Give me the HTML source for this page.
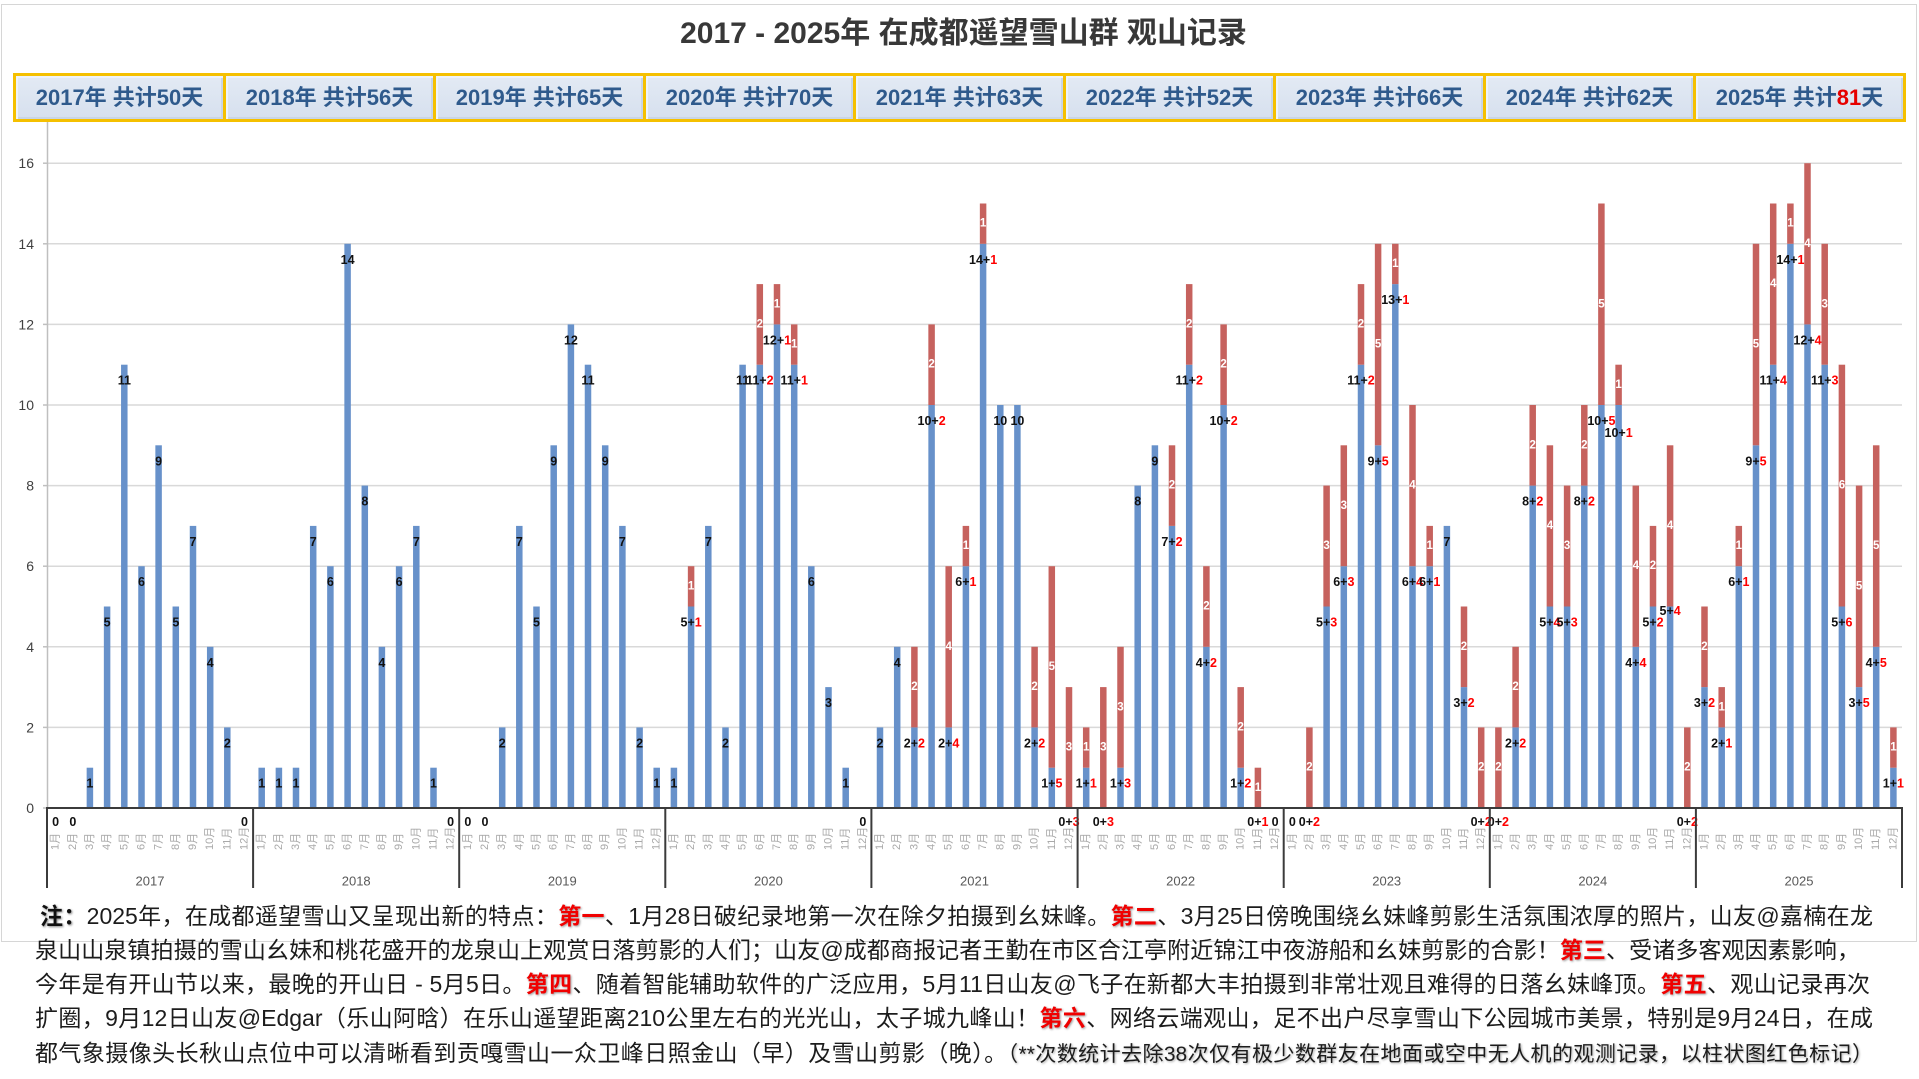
<!DOCTYPE html>
<html><head><meta charset="utf-8">
<style>
html,body{margin:0;padding:0;background:#fff;}
body{width:1919px;height:1079px;position:relative;overflow:hidden;font-family:"Liberation Sans","Noto Sans CJK SC",sans-serif;}
.frame{position:absolute;left:1px;top:4px;width:1914px;height:936px;border:1px solid #d6d6d6;}
.title{position:absolute;left:4px;top:12px;width:1919px;text-align:center;font-weight:bold;font-size:30px;line-height:44px;color:#383838;}
.hdr{position:absolute;left:13px;top:73px;width:1893px;height:49px;box-sizing:border-box;border:3px solid #f5c000;display:flex;background:#dce5f1;}
.hdr div{flex:1;box-sizing:border-box;text-align:center;font-weight:bold;font-size:22px;line-height:43px;color:#2f5a8c;background:linear-gradient(#e3eaf4,#d6e0ee);box-shadow:inset 2px 2px 0 #eef3f9,inset -2px -2px 0 #c8d5e6;}
.hdr div+div{border-left:3px solid #f5c000;}
.hdr .rn{color:#e60000;}
svg{position:absolute;left:0;top:0;}
.b{fill:#6791ca;}
.r{fill:#c6625e;}
.l{font:bold 12.5px "Liberation Sans",sans-serif;text-anchor:middle;dominant-baseline:central;fill:#111;}
.rd{fill:#ff0000;}
.w{font:bold 11.5px "Liberation Sans",sans-serif;text-anchor:middle;dominant-baseline:central;fill:#fff;}
.m{font:11px "Liberation Sans","Noto Sans CJK SC",sans-serif;fill:#a9a9a9;dominant-baseline:central;}
.yl{font:14px "Liberation Sans",sans-serif;fill:#404040;text-anchor:end;dominant-baseline:central;}
.yr{font:13px "Liberation Sans",sans-serif;fill:#595959;text-anchor:middle;dominant-baseline:central;}
.ln{position:absolute;height:34px;line-height:34px;font-size:23px;white-space:nowrap;text-align:justify;text-align-last:justify;color:#1c1c1c;font-family:"Liberation Sans","Noto Sans CJK SC",sans-serif;}
.ln .k{font-weight:bold;color:#111;text-shadow:1px 1px 2px #888;}
.ln .q{font-weight:bold;color:#f00000;text-shadow:1px 1px 2px #999;}
.ln .s{font-size:21px;text-shadow:1px 1px 2px #aaa;}
</style></head>
<body>
<div class="frame"></div>
<div class="title">2017 - 2025年 在成都遥望雪山群 观山记录</div>
<div class="hdr">
<div>2017年 共计50天</div><div>2018年 共计56天</div><div>2019年 共计65天</div><div>2020年 共计70天</div><div>2021年 共计63天</div><div>2022年 共计52天</div><div>2023年 共计66天</div><div>2024年 共计62天</div><div>2025年 共计<span class="rn">81</span>天</div>
</div>

<svg width="1919" height="1079" viewBox="0 0 1919 1079">
<!-- gridlines -->
<g stroke="#d9d9d9" stroke-width="1.5">
<line x1="48" y1="727.4" x2="1902" y2="727.4"/>
<line x1="48" y1="646.8" x2="1902" y2="646.8"/>
<line x1="48" y1="566.2" x2="1902" y2="566.2"/>
<line x1="48" y1="485.6" x2="1902" y2="485.6"/>
<line x1="48" y1="405" x2="1902" y2="405"/>
<line x1="48" y1="324.4" x2="1902" y2="324.4"/>
<line x1="48" y1="243.8" x2="1902" y2="243.8"/>
<line x1="48" y1="163.2" x2="1902" y2="163.2"/>
</g>
<g stroke="#bfbfbf" stroke-width="1.5">
<line x1="47.5" y1="122" x2="47.5" y2="808"/>
<line x1="43" y1="808" x2="48" y2="808"/>
<line x1="43" y1="727.4" x2="48" y2="727.4"/>
<line x1="43" y1="646.8" x2="48" y2="646.8"/>
<line x1="43" y1="566.2" x2="48" y2="566.2"/>
<line x1="43" y1="485.6" x2="48" y2="485.6"/>
<line x1="43" y1="405" x2="48" y2="405"/>
<line x1="43" y1="324.4" x2="48" y2="324.4"/>
<line x1="43" y1="243.8" x2="48" y2="243.8"/>
<line x1="43" y1="163.2" x2="48" y2="163.2"/>
</g>
<text class="yl" x="34" y="808">0</text>
<text class="yl" x="34" y="727.4">2</text>
<text class="yl" x="34" y="646.8">4</text>
<text class="yl" x="34" y="566.2">6</text>
<text class="yl" x="34" y="485.6">8</text>
<text class="yl" x="34" y="405">10</text>
<text class="yl" x="34" y="324.4">12</text>
<text class="yl" x="34" y="243.8">14</text>
<text class="yl" x="34" y="163.2">16</text>

<!-- 2017 -->
<g transform="translate(55.6,0)"><text class="l" y="822">0</text><text class="m" transform="translate(0,850) rotate(-90)">1月</text></g>
<g transform="translate(72.8,0)"><text class="l" y="822">0</text><text class="m" transform="translate(0,850) rotate(-90)">2月</text></g>
<g transform="translate(89.9,0)"><rect class="b" x="-3.25" width="6.5" y="767.7" height="40.3"/><text class="l" y="783.7">1</text><text class="m" transform="translate(0,850) rotate(-90)">3月</text></g>
<g transform="translate(107.1,0)"><rect class="b" x="-3.25" width="6.5" y="606.5" height="201.5"/><text class="l" y="622.5">5</text><text class="m" transform="translate(0,850) rotate(-90)">4月</text></g>
<g transform="translate(124.3,0)"><rect class="b" x="-3.25" width="6.5" y="364.7" height="443.3"/><text class="l" y="380.7">11</text><text class="m" transform="translate(0,850) rotate(-90)">5月</text></g>
<g transform="translate(141.5,0)"><rect class="b" x="-3.25" width="6.5" y="566.2" height="241.8"/><text class="l" y="582.2">6</text><text class="m" transform="translate(0,850) rotate(-90)">6月</text></g>
<g transform="translate(158.6,0)"><rect class="b" x="-3.25" width="6.5" y="445.3" height="362.7"/><text class="l" y="461.3">9</text><text class="m" transform="translate(0,850) rotate(-90)">7月</text></g>
<g transform="translate(175.8,0)"><rect class="b" x="-3.25" width="6.5" y="606.5" height="201.5"/><text class="l" y="622.5">5</text><text class="m" transform="translate(0,850) rotate(-90)">8月</text></g>
<g transform="translate(193.0,0)"><rect class="b" x="-3.25" width="6.5" y="525.9" height="282.1"/><text class="l" y="541.9">7</text><text class="m" transform="translate(0,850) rotate(-90)">9月</text></g>
<g transform="translate(210.2,0)"><rect class="b" x="-3.25" width="6.5" y="646.8" height="161.2"/><text class="l" y="662.8">4</text><text class="m" transform="translate(0,850) rotate(-90)">10月</text></g>
<g transform="translate(227.3,0)"><rect class="b" x="-3.25" width="6.5" y="727.4" height="80.6"/><text class="l" y="743.4">2</text><text class="m" transform="translate(0,850) rotate(-90)">11月</text></g>
<g transform="translate(244.5,0)"><text class="l" y="822">0</text><text class="m" transform="translate(0,850) rotate(-90)">12月</text></g>

<!-- 2018 -->
<g transform="translate(261.7,0)"><rect class="b" x="-3.25" width="6.5" y="767.7" height="40.3"/><text class="l" y="783.7">1</text><text class="m" transform="translate(0,850) rotate(-90)">1月</text></g>
<g transform="translate(278.9,0)"><rect class="b" x="-3.25" width="6.5" y="767.7" height="40.3"/><text class="l" y="783.7">1</text><text class="m" transform="translate(0,850) rotate(-90)">2月</text></g>
<g transform="translate(296.0,0)"><rect class="b" x="-3.25" width="6.5" y="767.7" height="40.3"/><text class="l" y="783.7">1</text><text class="m" transform="translate(0,850) rotate(-90)">3月</text></g>
<g transform="translate(313.2,0)"><rect class="b" x="-3.25" width="6.5" y="525.9" height="282.1"/><text class="l" y="541.9">7</text><text class="m" transform="translate(0,850) rotate(-90)">4月</text></g>
<g transform="translate(330.4,0)"><rect class="b" x="-3.25" width="6.5" y="566.2" height="241.8"/><text class="l" y="582.2">6</text><text class="m" transform="translate(0,850) rotate(-90)">5月</text></g>
<g transform="translate(347.6,0)"><rect class="b" x="-3.25" width="6.5" y="243.8" height="564.2"/><text class="l" y="259.8">14</text><text class="m" transform="translate(0,850) rotate(-90)">6月</text></g>
<g transform="translate(364.8,0)"><rect class="b" x="-3.25" width="6.5" y="485.6" height="322.4"/><text class="l" y="501.6">8</text><text class="m" transform="translate(0,850) rotate(-90)">7月</text></g>
<g transform="translate(381.9,0)"><rect class="b" x="-3.25" width="6.5" y="646.8" height="161.2"/><text class="l" y="662.8">4</text><text class="m" transform="translate(0,850) rotate(-90)">8月</text></g>
<g transform="translate(399.1,0)"><rect class="b" x="-3.25" width="6.5" y="566.2" height="241.8"/><text class="l" y="582.2">6</text><text class="m" transform="translate(0,850) rotate(-90)">9月</text></g>
<g transform="translate(416.3,0)"><rect class="b" x="-3.25" width="6.5" y="525.9" height="282.1"/><text class="l" y="541.9">7</text><text class="m" transform="translate(0,850) rotate(-90)">10月</text></g>
<g transform="translate(433.5,0)"><rect class="b" x="-3.25" width="6.5" y="767.7" height="40.3"/><text class="l" y="783.7">1</text><text class="m" transform="translate(0,850) rotate(-90)">11月</text></g>
<g transform="translate(450.6,0)"><text class="l" y="822">0</text><text class="m" transform="translate(0,850) rotate(-90)">12月</text></g>

<!-- 2019 -->
<g transform="translate(467.8,0)"><text class="l" y="822">0</text><text class="m" transform="translate(0,850) rotate(-90)">1月</text></g>
<g transform="translate(485.0,0)"><text class="l" y="822">0</text><text class="m" transform="translate(0,850) rotate(-90)">2月</text></g>
<g transform="translate(502.2,0)"><rect class="b" x="-3.25" width="6.5" y="727.4" height="80.6"/><text class="l" y="743.4">2</text><text class="m" transform="translate(0,850) rotate(-90)">3月</text></g>
<g transform="translate(519.3,0)"><rect class="b" x="-3.25" width="6.5" y="525.9" height="282.1"/><text class="l" y="541.9">7</text><text class="m" transform="translate(0,850) rotate(-90)">4月</text></g>
<g transform="translate(536.5,0)"><rect class="b" x="-3.25" width="6.5" y="606.5" height="201.5"/><text class="l" y="622.5">5</text><text class="m" transform="translate(0,850) rotate(-90)">5月</text></g>
<g transform="translate(553.7,0)"><rect class="b" x="-3.25" width="6.5" y="445.3" height="362.7"/><text class="l" y="461.3">9</text><text class="m" transform="translate(0,850) rotate(-90)">6月</text></g>
<g transform="translate(570.9,0)"><rect class="b" x="-3.25" width="6.5" y="324.4" height="483.6"/><text class="l" y="340.4">12</text><text class="m" transform="translate(0,850) rotate(-90)">7月</text></g>
<g transform="translate(588.0,0)"><rect class="b" x="-3.25" width="6.5" y="364.7" height="443.3"/><text class="l" y="380.7">11</text><text class="m" transform="translate(0,850) rotate(-90)">8月</text></g>
<g transform="translate(605.2,0)"><rect class="b" x="-3.25" width="6.5" y="445.3" height="362.7"/><text class="l" y="461.3">9</text><text class="m" transform="translate(0,850) rotate(-90)">9月</text></g>
<g transform="translate(622.4,0)"><rect class="b" x="-3.25" width="6.5" y="525.9" height="282.1"/><text class="l" y="541.9">7</text><text class="m" transform="translate(0,850) rotate(-90)">10月</text></g>
<g transform="translate(639.6,0)"><rect class="b" x="-3.25" width="6.5" y="727.4" height="80.6"/><text class="l" y="743.4">2</text><text class="m" transform="translate(0,850) rotate(-90)">11月</text></g>
<g transform="translate(656.7,0)"><rect class="b" x="-3.25" width="6.5" y="767.7" height="40.3"/><text class="l" y="783.7">1</text><text class="m" transform="translate(0,850) rotate(-90)">12月</text></g>

<!-- 2020 -->
<g transform="translate(673.9,0)"><rect class="b" x="-3.25" width="6.5" y="767.7" height="40.3"/><text class="l" y="783.7">1</text><text class="m" transform="translate(0,850) rotate(-90)">1月</text></g>
<g transform="translate(691.1,0)"><rect class="b" x="-3.25" width="6.5" y="606.5" height="201.5"/><rect class="r" x="-3.25" width="6.5" y="566.2" height="40.3"/><text class="w" y="586.35">1</text><text class="l" y="622.5">5+<tspan class="rd">1</tspan></text><text class="m" transform="translate(0,850) rotate(-90)">2月</text></g>
<g transform="translate(708.3,0)"><rect class="b" x="-3.25" width="6.5" y="525.9" height="282.1"/><text class="l" y="541.9">7</text><text class="m" transform="translate(0,850) rotate(-90)">3月</text></g>
<g transform="translate(725.5,0)"><rect class="b" x="-3.25" width="6.5" y="727.4" height="80.6"/><text class="l" y="743.4">2</text><text class="m" transform="translate(0,850) rotate(-90)">4月</text></g>
<g transform="translate(742.6,0)"><rect class="b" x="-3.25" width="6.5" y="364.7" height="443.3"/><text class="l" y="380.7">11</text><text class="m" transform="translate(0,850) rotate(-90)">5月</text></g>
<g transform="translate(759.8,0)"><rect class="b" x="-3.25" width="6.5" y="364.7" height="443.3"/><rect class="r" x="-3.25" width="6.5" y="284.1" height="80.6"/><text class="w" y="324.4">2</text><text class="l" y="380.7">11+<tspan class="rd">2</tspan></text><text class="m" transform="translate(0,850) rotate(-90)">6月</text></g>
<g transform="translate(777.0,0)"><rect class="b" x="-3.25" width="6.5" y="324.4" height="483.6"/><rect class="r" x="-3.25" width="6.5" y="284.1" height="40.3"/><text class="w" y="304.25">1</text><text class="l" y="340.4">12+<tspan class="rd">1</tspan></text><text class="m" transform="translate(0,850) rotate(-90)">7月</text></g>
<g transform="translate(794.2,0)"><rect class="b" x="-3.25" width="6.5" y="364.7" height="443.3"/><rect class="r" x="-3.25" width="6.5" y="324.4" height="40.3"/><text class="w" y="344.55">1</text><text class="l" y="380.7">11+<tspan class="rd">1</tspan></text><text class="m" transform="translate(0,850) rotate(-90)">8月</text></g>
<g transform="translate(811.3,0)"><rect class="b" x="-3.25" width="6.5" y="566.2" height="241.8"/><text class="l" y="582.2">6</text><text class="m" transform="translate(0,850) rotate(-90)">9月</text></g>
<g transform="translate(828.5,0)"><rect class="b" x="-3.25" width="6.5" y="687.1" height="120.9"/><text class="l" y="703.1">3</text><text class="m" transform="translate(0,850) rotate(-90)">10月</text></g>
<g transform="translate(845.7,0)"><rect class="b" x="-3.25" width="6.5" y="767.7" height="40.3"/><text class="l" y="783.7">1</text><text class="m" transform="translate(0,850) rotate(-90)">11月</text></g>
<g transform="translate(862.9,0)"><text class="l" y="822">0</text><text class="m" transform="translate(0,850) rotate(-90)">12月</text></g>

<!-- 2021 -->
<g transform="translate(880.0,0)"><rect class="b" x="-3.25" width="6.5" y="727.4" height="80.6"/><text class="l" y="743.4">2</text><text class="m" transform="translate(0,850) rotate(-90)">1月</text></g>
<g transform="translate(897.2,0)"><rect class="b" x="-3.25" width="6.5" y="646.8" height="161.2"/><text class="l" y="662.8">4</text><text class="m" transform="translate(0,850) rotate(-90)">2月</text></g>
<g transform="translate(914.4,0)"><rect class="b" x="-3.25" width="6.5" y="727.4" height="80.6"/><rect class="r" x="-3.25" width="6.5" y="646.8" height="80.6"/><text class="w" y="687.1">2</text><text class="l" y="743.4">2+<tspan class="rd">2</tspan></text><text class="m" transform="translate(0,850) rotate(-90)">3月</text></g>
<g transform="translate(931.6,0)"><rect class="b" x="-3.25" width="6.5" y="405" height="403"/><rect class="r" x="-3.25" width="6.5" y="324.4" height="80.6"/><text class="w" y="364.7">2</text><text class="l" y="421">10+<tspan class="rd">2</tspan></text><text class="m" transform="translate(0,850) rotate(-90)">4月</text></g>
<g transform="translate(948.7,0)"><rect class="b" x="-3.25" width="6.5" y="727.4" height="80.6"/><rect class="r" x="-3.25" width="6.5" y="566.2" height="161.2"/><text class="w" y="646.8">4</text><text class="l" y="743.4">2+<tspan class="rd">4</tspan></text><text class="m" transform="translate(0,850) rotate(-90)">5月</text></g>
<g transform="translate(965.9,0)"><rect class="b" x="-3.25" width="6.5" y="566.2" height="241.8"/><rect class="r" x="-3.25" width="6.5" y="525.9" height="40.3"/><text class="w" y="546.05">1</text><text class="l" y="582.2">6+<tspan class="rd">1</tspan></text><text class="m" transform="translate(0,850) rotate(-90)">6月</text></g>
<g transform="translate(983.1,0)"><rect class="b" x="-3.25" width="6.5" y="243.8" height="564.2"/><rect class="r" x="-3.25" width="6.5" y="203.5" height="40.3"/><text class="w" y="223.65">1</text><text class="l" y="259.8">14+<tspan class="rd">1</tspan></text><text class="m" transform="translate(0,850) rotate(-90)">7月</text></g>
<g transform="translate(1000.3,0)"><rect class="b" x="-3.25" width="6.5" y="405" height="403"/><text class="l" y="421">10</text><text class="m" transform="translate(0,850) rotate(-90)">8月</text></g>
<g transform="translate(1017.4,0)"><rect class="b" x="-3.25" width="6.5" y="405" height="403"/><text class="l" y="421">10</text><text class="m" transform="translate(0,850) rotate(-90)">9月</text></g>
<g transform="translate(1034.6,0)"><rect class="b" x="-3.25" width="6.5" y="727.4" height="80.6"/><rect class="r" x="-3.25" width="6.5" y="646.8" height="80.6"/><text class="w" y="687.1">2</text><text class="l" y="743.4">2+<tspan class="rd">2</tspan></text><text class="m" transform="translate(0,850) rotate(-90)">10月</text></g>
<g transform="translate(1051.8,0)"><rect class="b" x="-3.25" width="6.5" y="767.7" height="40.3"/><rect class="r" x="-3.25" width="6.5" y="566.2" height="201.5"/><text class="w" y="666.95">5</text><text class="l" y="783.7">1+<tspan class="rd">5</tspan></text><text class="m" transform="translate(0,850) rotate(-90)">11月</text></g>
<g transform="translate(1069.0,0)"><rect class="r" x="-3.25" width="6.5" y="687.1" height="120.9"/><text class="w" y="747.55">3</text><text class="l" y="822">0+<tspan class="rd">3</tspan></text><text class="m" transform="translate(0,850) rotate(-90)">12月</text></g>

<!-- 2022 -->
<g transform="translate(1086.2,0)"><rect class="b" x="-3.25" width="6.5" y="767.7" height="40.3"/><rect class="r" x="-3.25" width="6.5" y="727.4" height="40.3"/><text class="w" y="747.55">1</text><text class="l" y="783.7">1+<tspan class="rd">1</tspan></text><text class="m" transform="translate(0,850) rotate(-90)">1月</text></g>
<g transform="translate(1103.3,0)"><rect class="r" x="-3.25" width="6.5" y="687.1" height="120.9"/><text class="w" y="747.55">3</text><text class="l" y="822">0+<tspan class="rd">3</tspan></text><text class="m" transform="translate(0,850) rotate(-90)">2月</text></g>
<g transform="translate(1120.5,0)"><rect class="b" x="-3.25" width="6.5" y="767.7" height="40.3"/><rect class="r" x="-3.25" width="6.5" y="646.8" height="120.9"/><text class="w" y="707.25">3</text><text class="l" y="783.7">1+<tspan class="rd">3</tspan></text><text class="m" transform="translate(0,850) rotate(-90)">3月</text></g>
<g transform="translate(1137.7,0)"><rect class="b" x="-3.25" width="6.5" y="485.6" height="322.4"/><text class="l" y="501.6">8</text><text class="m" transform="translate(0,850) rotate(-90)">4月</text></g>
<g transform="translate(1154.9,0)"><rect class="b" x="-3.25" width="6.5" y="445.3" height="362.7"/><text class="l" y="461.3">9</text><text class="m" transform="translate(0,850) rotate(-90)">5月</text></g>
<g transform="translate(1172.0,0)"><rect class="b" x="-3.25" width="6.5" y="525.9" height="282.1"/><rect class="r" x="-3.25" width="6.5" y="445.3" height="80.6"/><text class="w" y="485.6">2</text><text class="l" y="541.9">7+<tspan class="rd">2</tspan></text><text class="m" transform="translate(0,850) rotate(-90)">6月</text></g>
<g transform="translate(1189.2,0)"><rect class="b" x="-3.25" width="6.5" y="364.7" height="443.3"/><rect class="r" x="-3.25" width="6.5" y="284.1" height="80.6"/><text class="w" y="324.4">2</text><text class="l" y="380.7">11+<tspan class="rd">2</tspan></text><text class="m" transform="translate(0,850) rotate(-90)">7月</text></g>
<g transform="translate(1206.4,0)"><rect class="b" x="-3.25" width="6.5" y="646.8" height="161.2"/><rect class="r" x="-3.25" width="6.5" y="566.2" height="80.6"/><text class="w" y="606.5">2</text><text class="l" y="662.8">4+<tspan class="rd">2</tspan></text><text class="m" transform="translate(0,850) rotate(-90)">8月</text></g>
<g transform="translate(1223.6,0)"><rect class="b" x="-3.25" width="6.5" y="405" height="403"/><rect class="r" x="-3.25" width="6.5" y="324.4" height="80.6"/><text class="w" y="364.7">2</text><text class="l" y="421">10+<tspan class="rd">2</tspan></text><text class="m" transform="translate(0,850) rotate(-90)">9月</text></g>
<g transform="translate(1240.7,0)"><rect class="b" x="-3.25" width="6.5" y="767.7" height="40.3"/><rect class="r" x="-3.25" width="6.5" y="687.1" height="80.6"/><text class="w" y="727.4">2</text><text class="l" y="783.7">1+<tspan class="rd">2</tspan></text><text class="m" transform="translate(0,850) rotate(-90)">10月</text></g>
<g transform="translate(1257.9,0)"><rect class="r" x="-3.25" width="6.5" y="767.7" height="40.3"/><text class="w" y="787.85">1</text><text class="l" y="822">0+<tspan class="rd">1</tspan></text><text class="m" transform="translate(0,850) rotate(-90)">11月</text></g>
<g transform="translate(1275.1,0)"><text class="l" y="822">0</text><text class="m" transform="translate(0,850) rotate(-90)">12月</text></g>

<!-- 2023 -->
<g transform="translate(1292.3,0)"><text class="l" y="822">0</text><text class="m" transform="translate(0,850) rotate(-90)">1月</text></g>
<g transform="translate(1309.4,0)"><rect class="r" x="-3.25" width="6.5" y="727.4" height="80.6"/><text class="w" y="767.7">2</text><text class="l" y="822">0+<tspan class="rd">2</tspan></text><text class="m" transform="translate(0,850) rotate(-90)">2月</text></g>
<g transform="translate(1326.6,0)"><rect class="b" x="-3.25" width="6.5" y="606.5" height="201.5"/><rect class="r" x="-3.25" width="6.5" y="485.6" height="120.9"/><text class="w" y="546.05">3</text><text class="l" y="622.5">5+<tspan class="rd">3</tspan></text><text class="m" transform="translate(0,850) rotate(-90)">3月</text></g>
<g transform="translate(1343.8,0)"><rect class="b" x="-3.25" width="6.5" y="566.2" height="241.8"/><rect class="r" x="-3.25" width="6.5" y="445.3" height="120.9"/><text class="w" y="505.75">3</text><text class="l" y="582.2">6+<tspan class="rd">3</tspan></text><text class="m" transform="translate(0,850) rotate(-90)">4月</text></g>
<g transform="translate(1361.0,0)"><rect class="b" x="-3.25" width="6.5" y="364.7" height="443.3"/><rect class="r" x="-3.25" width="6.5" y="284.1" height="80.6"/><text class="w" y="324.4">2</text><text class="l" y="380.7">11+<tspan class="rd">2</tspan></text><text class="m" transform="translate(0,850) rotate(-90)">5月</text></g>
<g transform="translate(1378.1,0)"><rect class="b" x="-3.25" width="6.5" y="445.3" height="362.7"/><rect class="r" x="-3.25" width="6.5" y="243.8" height="201.5"/><text class="w" y="344.55">5</text><text class="l" y="461.3">9+<tspan class="rd">5</tspan></text><text class="m" transform="translate(0,850) rotate(-90)">6月</text></g>
<g transform="translate(1395.3,0)"><rect class="b" x="-3.25" width="6.5" y="284.1" height="523.9"/><rect class="r" x="-3.25" width="6.5" y="243.8" height="40.3"/><text class="w" y="263.95">1</text><text class="l" y="300.1">13+<tspan class="rd">1</tspan></text><text class="m" transform="translate(0,850) rotate(-90)">7月</text></g>
<g transform="translate(1412.5,0)"><rect class="b" x="-3.25" width="6.5" y="566.2" height="241.8"/><rect class="r" x="-3.25" width="6.5" y="405" height="161.2"/><text class="w" y="485.6">4</text><text class="l" y="582.2">6+<tspan class="rd">4</tspan></text><text class="m" transform="translate(0,850) rotate(-90)">8月</text></g>
<g transform="translate(1429.7,0)"><rect class="b" x="-3.25" width="6.5" y="566.2" height="241.8"/><rect class="r" x="-3.25" width="6.5" y="525.9" height="40.3"/><text class="w" y="546.05">1</text><text class="l" y="582.2">6+<tspan class="rd">1</tspan></text><text class="m" transform="translate(0,850) rotate(-90)">9月</text></g>
<g transform="translate(1446.9,0)"><rect class="b" x="-3.25" width="6.5" y="525.9" height="282.1"/><text class="l" y="541.9">7</text><text class="m" transform="translate(0,850) rotate(-90)">10月</text></g>
<g transform="translate(1464.0,0)"><rect class="b" x="-3.25" width="6.5" y="687.1" height="120.9"/><rect class="r" x="-3.25" width="6.5" y="606.5" height="80.6"/><text class="w" y="646.8">2</text><text class="l" y="703.1">3+<tspan class="rd">2</tspan></text><text class="m" transform="translate(0,850) rotate(-90)">11月</text></g>
<g transform="translate(1481.2,0)"><rect class="r" x="-3.25" width="6.5" y="727.4" height="80.6"/><text class="w" y="767.7">2</text><text class="l" y="822">0+<tspan class="rd">2</tspan></text><text class="m" transform="translate(0,850) rotate(-90)">12月</text></g>

<!-- 2024 -->
<g transform="translate(1498.4,0)"><rect class="r" x="-3.25" width="6.5" y="727.4" height="80.6"/><text class="w" y="767.7">2</text><text class="l" y="822">0+<tspan class="rd">2</tspan></text><text class="m" transform="translate(0,850) rotate(-90)">1月</text></g>
<g transform="translate(1515.6,0)"><rect class="b" x="-3.25" width="6.5" y="727.4" height="80.6"/><rect class="r" x="-3.25" width="6.5" y="646.8" height="80.6"/><text class="w" y="687.1">2</text><text class="l" y="743.4">2+<tspan class="rd">2</tspan></text><text class="m" transform="translate(0,850) rotate(-90)">2月</text></g>
<g transform="translate(1532.7,0)"><rect class="b" x="-3.25" width="6.5" y="485.6" height="322.4"/><rect class="r" x="-3.25" width="6.5" y="405" height="80.6"/><text class="w" y="445.3">2</text><text class="l" y="501.6">8+<tspan class="rd">2</tspan></text><text class="m" transform="translate(0,850) rotate(-90)">3月</text></g>
<g transform="translate(1549.9,0)"><rect class="b" x="-3.25" width="6.5" y="606.5" height="201.5"/><rect class="r" x="-3.25" width="6.5" y="445.3" height="161.2"/><text class="w" y="525.9">4</text><text class="l" y="622.5">5+<tspan class="rd">4</tspan></text><text class="m" transform="translate(0,850) rotate(-90)">4月</text></g>
<g transform="translate(1567.1,0)"><rect class="b" x="-3.25" width="6.5" y="606.5" height="201.5"/><rect class="r" x="-3.25" width="6.5" y="485.6" height="120.9"/><text class="w" y="546.05">3</text><text class="l" y="622.5">5+<tspan class="rd">3</tspan></text><text class="m" transform="translate(0,850) rotate(-90)">5月</text></g>
<g transform="translate(1584.3,0)"><rect class="b" x="-3.25" width="6.5" y="485.6" height="322.4"/><rect class="r" x="-3.25" width="6.5" y="405" height="80.6"/><text class="w" y="445.3">2</text><text class="l" y="501.6">8+<tspan class="rd">2</tspan></text><text class="m" transform="translate(0,850) rotate(-90)">6月</text></g>
<g transform="translate(1601.4,0)"><rect class="b" x="-3.25" width="6.5" y="405" height="403"/><rect class="r" x="-3.25" width="6.5" y="203.5" height="201.5"/><text class="w" y="304.25">5</text><text class="l" y="421">10+<tspan class="rd">5</tspan></text><text class="m" transform="translate(0,850) rotate(-90)">7月</text></g>
<g transform="translate(1618.6,0)"><rect class="b" x="-3.25" width="6.5" y="405" height="403"/><rect class="r" x="-3.25" width="6.5" y="364.7" height="40.3"/><text class="w" y="384.85">1</text><text class="l" y="433">10+<tspan class="rd">1</tspan></text><text class="m" transform="translate(0,850) rotate(-90)">8月</text></g>
<g transform="translate(1635.8,0)"><rect class="b" x="-3.25" width="6.5" y="646.8" height="161.2"/><rect class="r" x="-3.25" width="6.5" y="485.6" height="161.2"/><text class="w" y="566.2">4</text><text class="l" y="662.8">4+<tspan class="rd">4</tspan></text><text class="m" transform="translate(0,850) rotate(-90)">9月</text></g>
<g transform="translate(1653.0,0)"><rect class="b" x="-3.25" width="6.5" y="606.5" height="201.5"/><rect class="r" x="-3.25" width="6.5" y="525.9" height="80.6"/><text class="w" y="566.2">2</text><text class="l" y="622.5">5+<tspan class="rd">2</tspan></text><text class="m" transform="translate(0,850) rotate(-90)">10月</text></g>
<g transform="translate(1670.1,0)"><rect class="b" x="-3.25" width="6.5" y="606.5" height="201.5"/><rect class="r" x="-3.25" width="6.5" y="445.3" height="161.2"/><text class="w" y="525.9">4</text><text class="l" y="611">5+<tspan class="rd">4</tspan></text><text class="m" transform="translate(0,850) rotate(-90)">11月</text></g>
<g transform="translate(1687.3,0)"><rect class="r" x="-3.25" width="6.5" y="727.4" height="80.6"/><text class="w" y="767.7">2</text><text class="l" y="822">0+<tspan class="rd">2</tspan></text><text class="m" transform="translate(0,850) rotate(-90)">12月</text></g>

<!-- 2025 -->
<g transform="translate(1704.5,0)"><rect class="b" x="-3.25" width="6.5" y="687.1" height="120.9"/><rect class="r" x="-3.25" width="6.5" y="606.5" height="80.6"/><text class="w" y="646.8">2</text><text class="l" y="703.1">3+<tspan class="rd">2</tspan></text><text class="m" transform="translate(0,850) rotate(-90)">1月</text></g>
<g transform="translate(1721.7,0)"><rect class="b" x="-3.25" width="6.5" y="727.4" height="80.6"/><rect class="r" x="-3.25" width="6.5" y="687.1" height="40.3"/><text class="w" y="707.25">1</text><text class="l" y="743.4">2+<tspan class="rd">1</tspan></text><text class="m" transform="translate(0,850) rotate(-90)">2月</text></g>
<g transform="translate(1738.8,0)"><rect class="b" x="-3.25" width="6.5" y="566.2" height="241.8"/><rect class="r" x="-3.25" width="6.5" y="525.9" height="40.3"/><text class="w" y="546.05">1</text><text class="l" y="582.2">6+<tspan class="rd">1</tspan></text><text class="m" transform="translate(0,850) rotate(-90)">3月</text></g>
<g transform="translate(1756.0,0)"><rect class="b" x="-3.25" width="6.5" y="445.3" height="362.7"/><rect class="r" x="-3.25" width="6.5" y="243.8" height="201.5"/><text class="w" y="344.55">5</text><text class="l" y="461.3">9+<tspan class="rd">5</tspan></text><text class="m" transform="translate(0,850) rotate(-90)">4月</text></g>
<g transform="translate(1773.2,0)"><rect class="b" x="-3.25" width="6.5" y="364.7" height="443.3"/><rect class="r" x="-3.25" width="6.5" y="203.5" height="161.2"/><text class="w" y="284.1">4</text><text class="l" y="380.7">11+<tspan class="rd">4</tspan></text><text class="m" transform="translate(0,850) rotate(-90)">5月</text></g>
<g transform="translate(1790.4,0)"><rect class="b" x="-3.25" width="6.5" y="243.8" height="564.2"/><rect class="r" x="-3.25" width="6.5" y="203.5" height="40.3"/><text class="w" y="223.65">1</text><text class="l" y="259.8">14+<tspan class="rd">1</tspan></text><text class="m" transform="translate(0,850) rotate(-90)">6月</text></g>
<g transform="translate(1807.5,0)"><rect class="b" x="-3.25" width="6.5" y="324.4" height="483.6"/><rect class="r" x="-3.25" width="6.5" y="163.2" height="161.2"/><text class="w" y="243.8">4</text><text class="l" y="340.4">12+<tspan class="rd">4</tspan></text><text class="m" transform="translate(0,850) rotate(-90)">7月</text></g>
<g transform="translate(1824.7,0)"><rect class="b" x="-3.25" width="6.5" y="364.7" height="443.3"/><rect class="r" x="-3.25" width="6.5" y="243.8" height="120.9"/><text class="w" y="304.25">3</text><text class="l" y="380.7">11+<tspan class="rd">3</tspan></text><text class="m" transform="translate(0,850) rotate(-90)">8月</text></g>
<g transform="translate(1841.9,0)"><rect class="b" x="-3.25" width="6.5" y="606.5" height="201.5"/><rect class="r" x="-3.25" width="6.5" y="364.7" height="241.8"/><text class="w" y="485.6">6</text><text class="l" y="622.5">5+<tspan class="rd">6</tspan></text><text class="m" transform="translate(0,850) rotate(-90)">9月</text></g>
<g transform="translate(1859.1,0)"><rect class="b" x="-3.25" width="6.5" y="687.1" height="120.9"/><rect class="r" x="-3.25" width="6.5" y="485.6" height="201.5"/><text class="w" y="586.35">5</text><text class="l" y="703.1">3+<tspan class="rd">5</tspan></text><text class="m" transform="translate(0,850) rotate(-90)">10月</text></g>
<g transform="translate(1876.2,0)"><rect class="b" x="-3.25" width="6.5" y="646.8" height="161.2"/><rect class="r" x="-3.25" width="6.5" y="445.3" height="201.5"/><text class="w" y="546.05">5</text><text class="l" y="662.8">4+<tspan class="rd">5</tspan></text><text class="m" transform="translate(0,850) rotate(-90)">11月</text></g>
<g transform="translate(1893.4,0)"><rect class="b" x="-3.25" width="6.5" y="767.7" height="40.3"/><rect class="r" x="-3.25" width="6.5" y="727.4" height="40.3"/><text class="w" y="747.55">1</text><text class="l" y="783.7">1+<tspan class="rd">1</tspan></text><text class="m" transform="translate(0,850) rotate(-90)">12月</text></g>

<!-- axis baseline and year separators -->
<g stroke="#3b3b3b" stroke-width="2">
<line x1="46" y1="808" x2="1903" y2="808"/>
<line x1="47" y1="807" x2="47" y2="888"/>
<line x1="253.1" y1="807" x2="253.1" y2="888"/>
<line x1="459.2" y1="807" x2="459.2" y2="888"/>
<line x1="665.3" y1="807" x2="665.3" y2="888"/>
<line x1="871.4" y1="807" x2="871.4" y2="888"/>
<line x1="1077.6" y1="807" x2="1077.6" y2="888"/>
<line x1="1283.7" y1="807" x2="1283.7" y2="888"/>
<line x1="1489.8" y1="807" x2="1489.8" y2="888"/>
<line x1="1695.9" y1="807" x2="1695.9" y2="888"/>
<line x1="1902" y1="807" x2="1902" y2="888"/>
</g>
<text class="yr" x="150" y="881">2017</text>
<text class="yr" x="356.2" y="881">2018</text>
<text class="yr" x="562.3" y="881">2019</text>
<text class="yr" x="768.4" y="881">2020</text>
<text class="yr" x="974.5" y="881">2021</text>
<text class="yr" x="1180.6" y="881">2022</text>
<text class="yr" x="1386.7" y="881">2023</text>
<text class="yr" x="1592.8" y="881">2024</text>
<text class="yr" x="1799" y="881">2025</text>
</svg>

<div class="ln" style="left:40px;top:899px;width:1833px;"><span class="k">注：</span>2025年，在成都遥望雪山又呈现出新的特点：<span class="q">第一</span>、1月28日破纪录地第一次在除夕拍摄到幺妹峰。<span class="q">第二</span>、3月25日傍晚围绕幺妹峰剪影生活氛围浓厚的照片，山友@嘉楠在龙</div>
<div class="ln" style="left:35px;top:933px;width:1825px;">泉山山泉镇拍摄的雪山幺妹和桃花盛开的龙泉山上观赏日落剪影的人们；山友@成都商报记者王勤在市区合江亭附近锦江中夜游船和幺妹剪影的合影！<span class="q">第三</span>、受诸多客观因素影响，</div>
<div class="ln" style="left:35px;top:967px;width:1835px;">今年是有开山节以来，最晚的开山日 - 5月5日。<span class="q">第四</span>、随着智能辅助软件的广泛应用，5月11日山友@飞子在新都大丰拍摄到非常壮观且难得的日落幺妹峰顶。<span class="q">第五</span>、观山记录再次</div>
<div class="ln" style="left:35px;top:1001px;width:1838px;">扩圈，9月12日山友@Edgar（乐山阿晗）在乐山遥望距离210公里左右的光光山，太子城九峰山！<span class="q">第六</span>、网络云端观山，足不出户尽享雪山下公园城市美景，特别是9月24日，在成</div>
<div class="ln" style="left:35px;top:1036px;width:1838px;">都气象摄像头长秋山点位中可以清晰看到贡嘎雪山一众卫峰日照金山（早）及雪山剪影（晚）。<span class="s">（**次数统计去除38次仅有极少数群友在地面或空中无人机的观测记录，以柱状图红色标记）</span></div>
</body></html>
